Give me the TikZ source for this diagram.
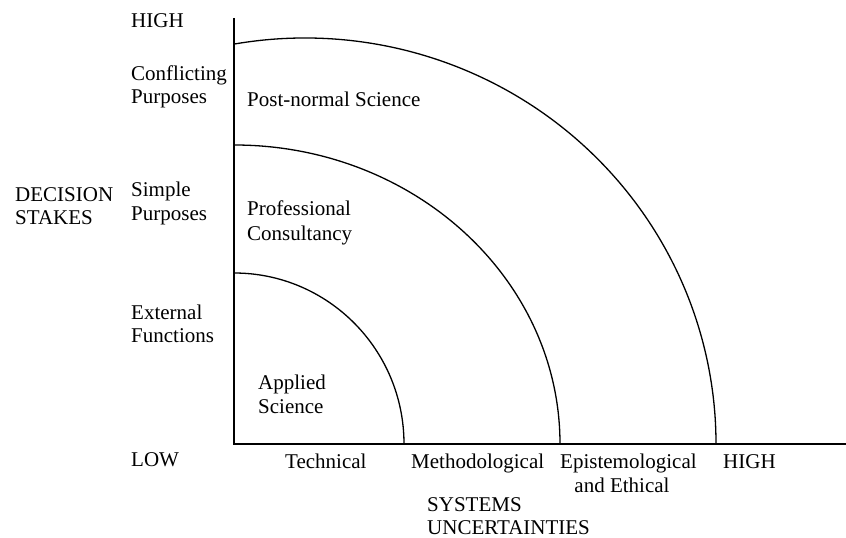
\documentclass[tikz,border=0pt]{standalone}
\usepackage{fontspec}
\setmainfont{Liberation Serif}
\begin{document}
\begin{tikzpicture}[x=1pt,y=1pt,
  lbl/.style={anchor=base west,inner sep=0pt,font=\fontsize{21}{24}\selectfont},
  clbl/.style={anchor=base,inner sep=0pt,font=\fontsize{21}{24}\selectfont},
  ax/.style={line width=1.3pt},
  zone/.style={line width=1.3pt}]
\useasboundingbox (0,0) rectangle (846,538);
% axes
\coordinate (O) at (234,94);
\coordinate (Ytop) at (234,520);
\coordinate (Xend) at (846,94);
\draw[ax] (Ytop) -- (O) -- (Xend);
% zone boundaries
\coordinate (a1) at (234,265);
\coordinate (a2) at (234,393);
\coordinate (a3) at (234,493.9);
\draw[zone] (a1) arc[start angle=90,end angle=0,x radius=170pt,y radius=171pt];
\draw[zone] (a2) arc[start angle=90,end angle=0,x radius=326pt,y radius=299pt];
\draw[zone] (a3) arc[start angle=99.95,end angle=0,x radius=411pt,y radius=406pt];
% vertical axis labels
\node[lbl] (yhigh) at (131,510) {HIGH};
\node[lbl] (conf1) at (131,457) {Conflicting};
\node[lbl] (conf2) at (131,434) {Purposes};
\node[lbl] (dec1) at (15,336) {DECISION};
\node[lbl] (dec2) at (15,313) {STAKES};
\node[lbl] (simp1) at (131,341) {Simple};
\node[lbl] (simp2) at (131,317) {Purposes};
\node[lbl] (ext1) at (131,218) {External};
\node[lbl] (ext2) at (131,195) {Functions};
\node[lbl] (ylow) at (131,71) {LOW};
% zone labels
\node[lbl] (pns) at (247,431) {Post-normal Science};
\node[lbl] (pc1) at (247,322) {Professional};
\node[lbl] (pc2) at (247,297) {Consultancy};
\node[lbl] (as1) at (258,148) {Applied};
\node[lbl] (as2) at (258,124) {Science};
% horizontal axis labels
\node[lbl] (tech) at (285,69) {Technical};
\node[lbl] (meth) at (411,69) {Methodological};
\node[lbl] (epi1) at (560,69) {Epistemological};
\node[clbl] (epi2) at (622,45) {and Ethical};
\node[lbl] (xhigh) at (723,69) {HIGH};
\node[lbl] (sys1) at (427,26) {SYSTEMS};
\node[lbl] (sys2) at (427,3) {UNCERTAINTIES};
\end{tikzpicture}
\end{document}
